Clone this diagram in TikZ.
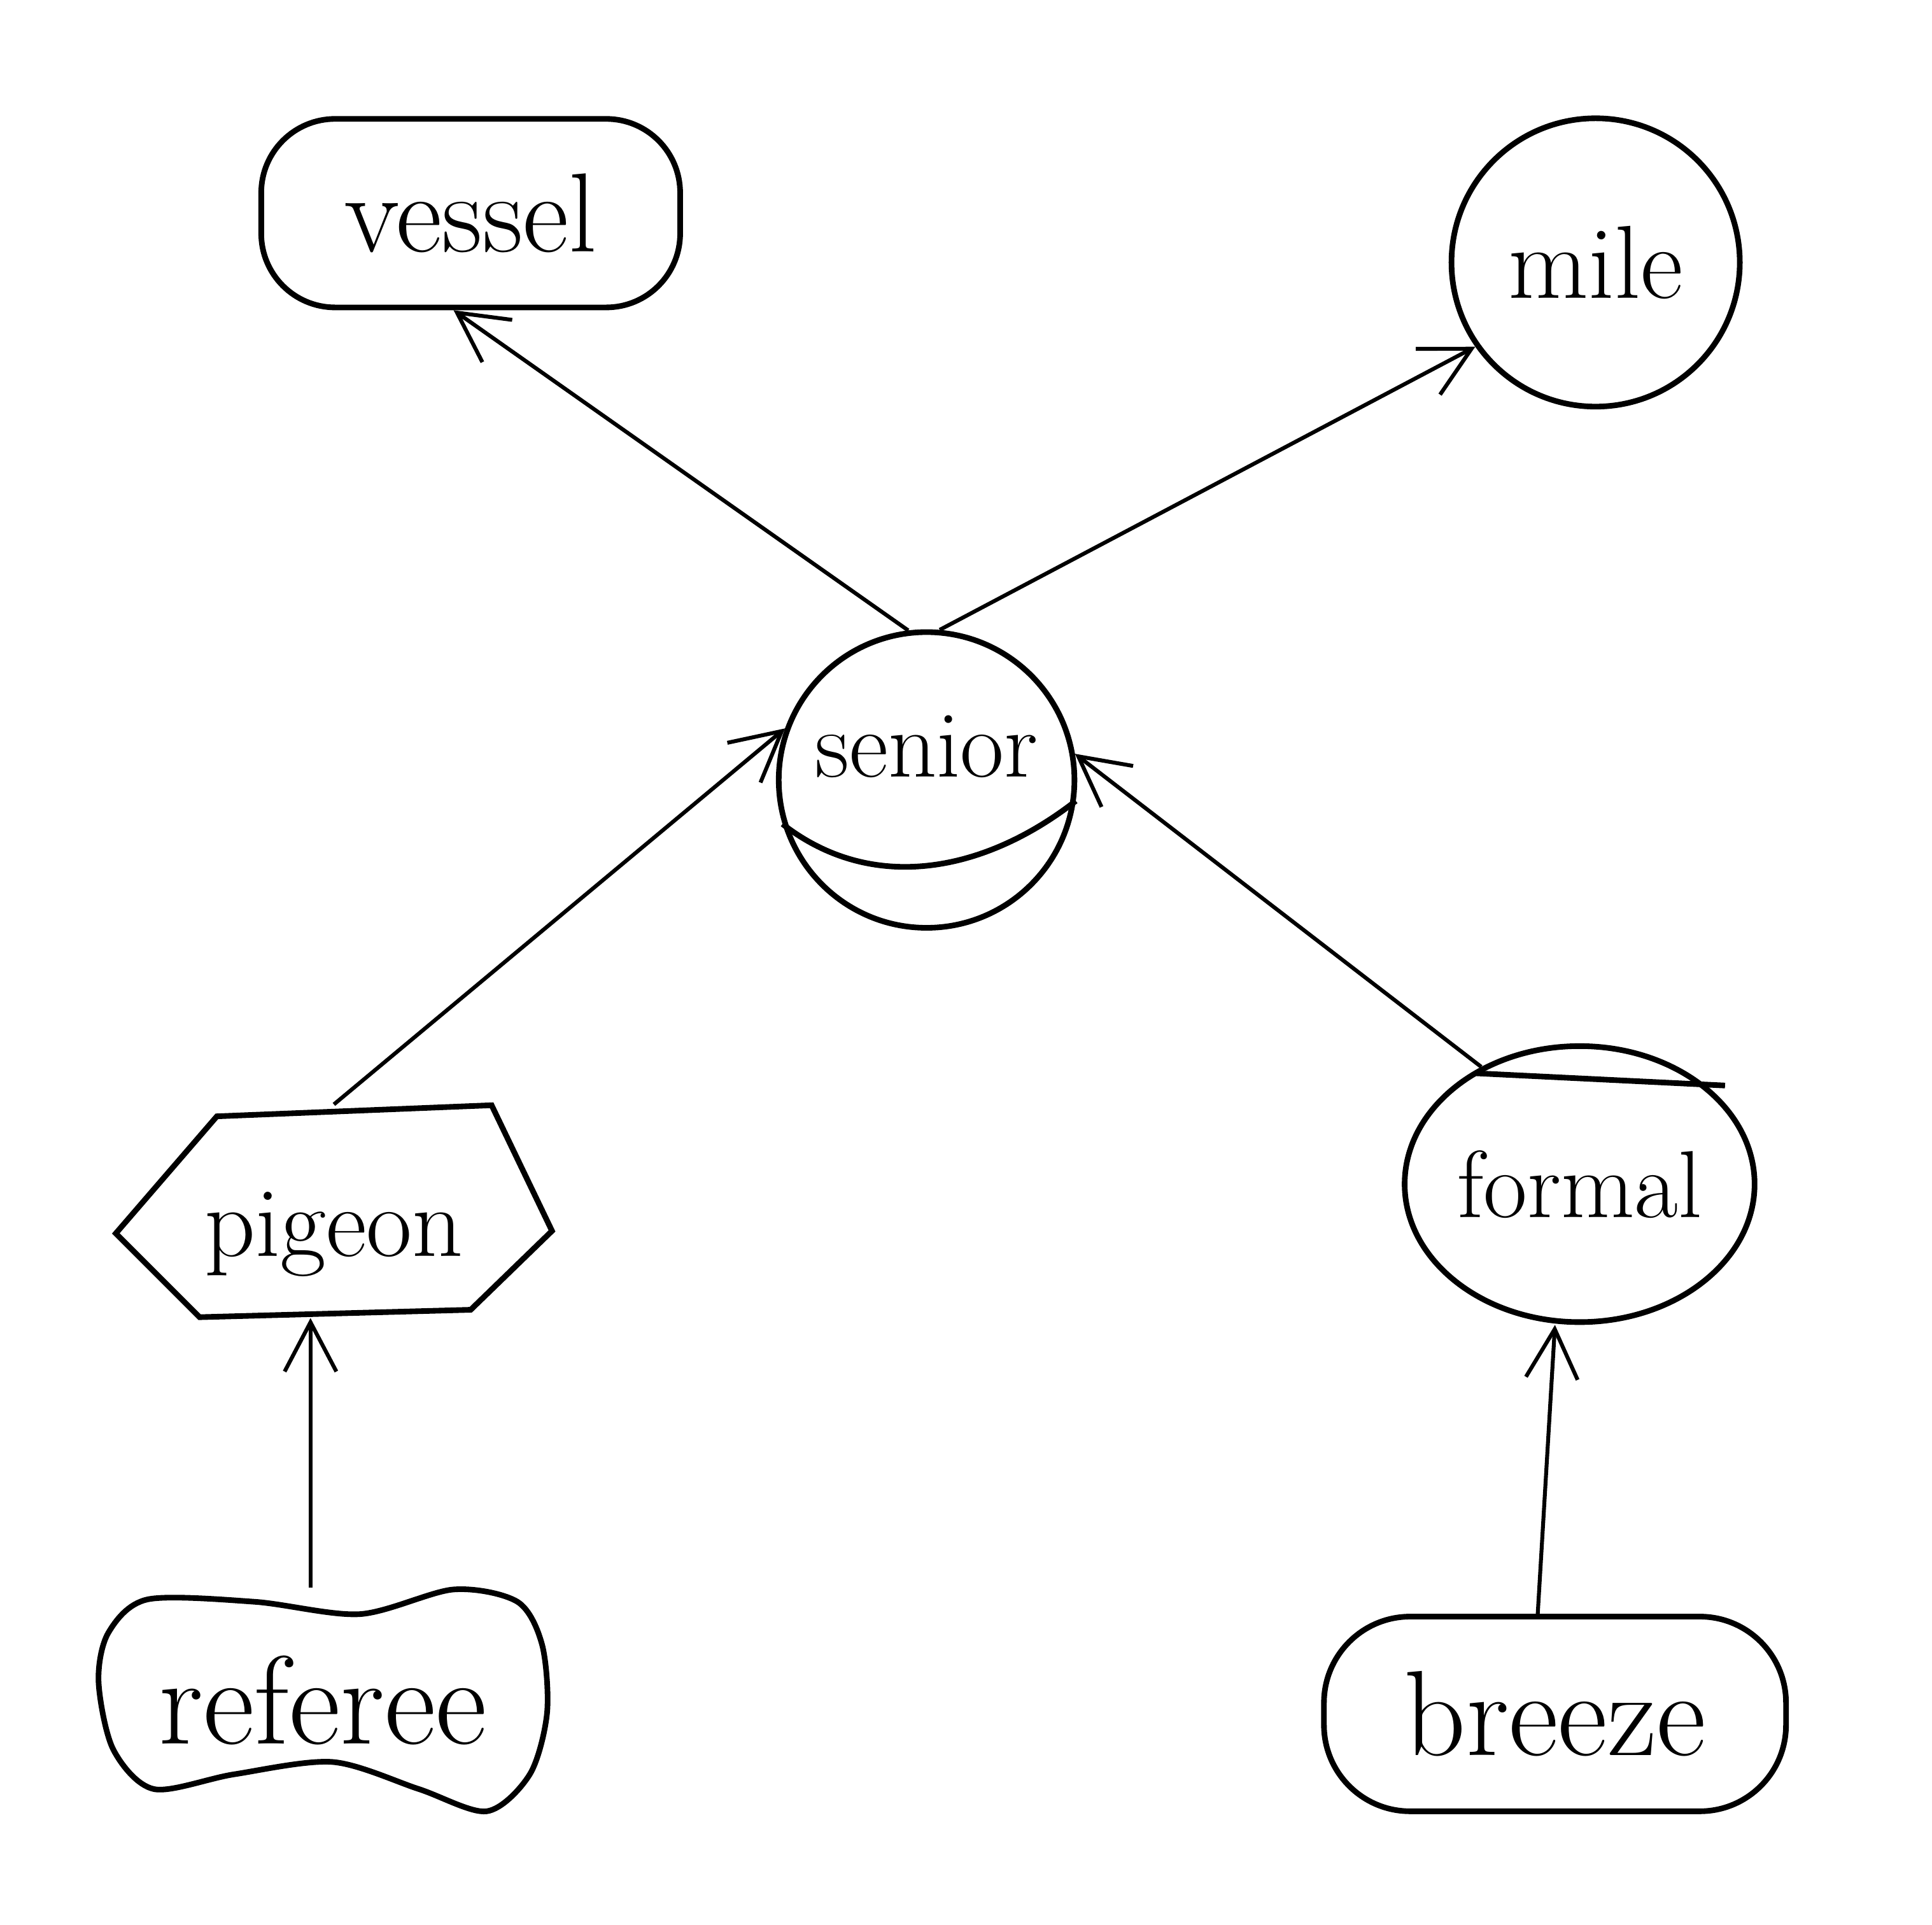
\documentclass[tikz,border=0pt]{standalone}
\usetikzlibrary{shapes.geometric,arrows.meta}
\tikzset{
  figword/.style={font=\fontsize{22}{26}\selectfont, inner sep=0pt},
  fs/.style={font=\fontsize{#1}{#1}\selectfont},
  figlines/.style={line width=1.3pt, draw=black},
  figedge/.style={line width=0.9pt, -{Straight Barb[length=0.4cm,width=0.42cm]}},
  rbox/.style={figword, figlines, rectangle, rounded corners=0.6cm},
  circ/.style={figword, figlines, circle},
  ell/.style={figword, figlines, ellipse},
  bare/.style={figword, draw=none, rectangle},
}

\begin{document}
\begin{tikzpicture}
\useasboundingbox (0,0) rectangle (15.68,-15.62);
% nodes
\node[rbox, fs=26, minimum width=3.4cm, minimum height=1.53cm] (vessel) at (3.82,-1.73) {vessel};
\node[circ, fs=24, minimum size=2.34cm] (mile) at (12.95,-2.13) {mile};
\node[circ, minimum size=2.4cm, text depth=0.55cm] (senior) at (7.52,-6.33) {senior};
\draw[figlines] (senior.197) to[out=-38,in=218] (senior.352);
\node[bare, fs=23, minimum width=3.54cm, minimum height=1.72cm, text height=0.9cm] (pigeon) at (2.71,-9.83) {pigeon};
\draw[figlines] (0.94,-10.01) -- (1.76,-9.06) -- (3.99,-8.97) -- (4.48,-9.99) -- (3.82,-10.63) -- (1.62,-10.69) -- cycle;
\node[ell, minimum width=2.84cm, minimum height=2.24cm] (formal) at (12.82,-9.61) {formal};
\draw[figlines] ([xshift=-0.85cm,yshift=0.9cm]formal.center) -- ([xshift=1.18cm,yshift=0.8cm]formal.center);
\node[bare, fs=29, minimum width=3.64cm, minimum height=1.82cm] (referee) at (2.62,-13.8) {referee};
\draw[figlines] plot[smooth cycle] coordinates {(0.88,-13.25) (1.2,-12.98) (2.07,-13.0) (2.92,-13.1) (3.68,-12.9) (4.2,-13.0) (4.4,-13.35) (4.44,-13.9) (4.3,-14.4) (3.95,-14.7) (3.4,-14.52) (2.7,-14.3) (1.9,-14.4) (1.25,-14.52) (0.92,-14.2) (0.8,-13.65)};
\node[rbox, fs=28, minimum width=3.75cm, minimum height=1.58cm, rounded corners=0.7cm] (breeze) at (12.62,-13.91) {breeze};
% edges
\draw[figedge] (senior.97) -- (vessel.260);
\draw[figedge] (senior.85) -- (mile.215);
\draw[figedge] (pigeon.north) -- (senior.160);
\draw[figedge] (formal.130) -- (senior.10);
\draw[figedge] ([xshift=-0.1cm]referee.north) -- ([xshift=-0.1cm]referee.north |- pigeon.south);
\draw[figedge] ([xshift=-0.14cm]breeze.north) -- ([xshift=-0.2cm]formal.south);
\end{tikzpicture}
\end{document}
